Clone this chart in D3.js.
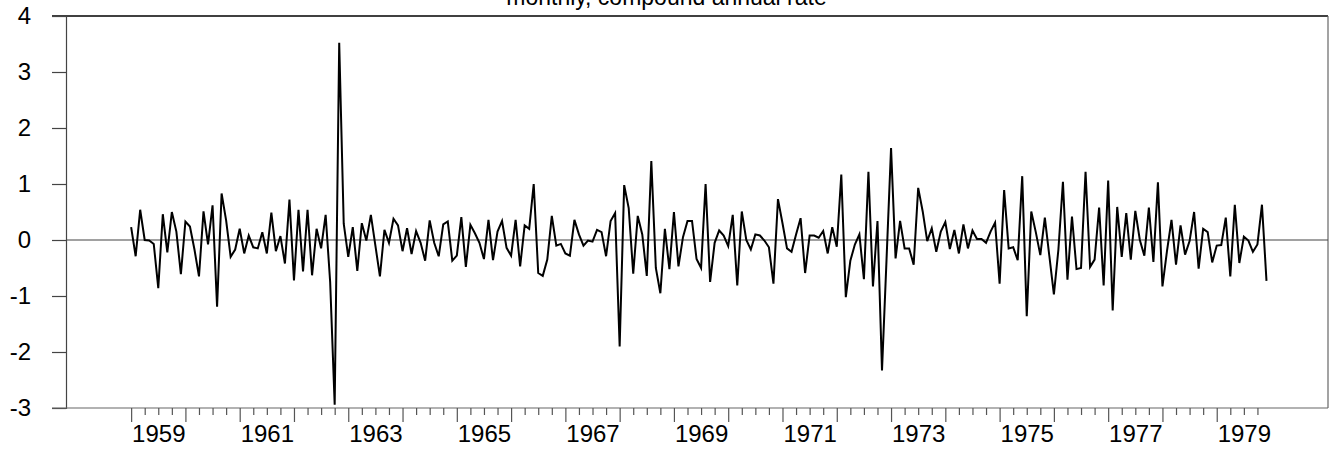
<!DOCTYPE html>
<html>
<head>
<meta charset="utf-8">
<script src="https://cdn.jsdelivr.net/npm/d3@7"></script>
<style>
  html, body { margin: 0; padding: 0; background: #fff; }
  svg { display: block; }
  text { font-family: "Liberation Sans", Arial, sans-serif; fill: #000; }
</style>
</head>
<body>
<svg id="chart" width="1333" height="450"></svg>
<script>
// ---- data ----
const titleText = "monthly, compound annual rate";
const startYear = 1959;   // first observation: January 1959
const startMonth = 0;
const values = [
  0.23, -0.29, 0.54, 0.00, -0.01, -0.07, -0.86, 0.46, -0.22, 0.50, 0.15, -0.61,
  0.33, 0.24, -0.17, -0.65, 0.51, -0.08, 0.62, -1.19, 0.83, 0.35, -0.30, -0.17,
  0.20, -0.24, 0.08, -0.13, -0.15, 0.14, -0.24, 0.49, -0.20, 0.07, -0.42, 0.72,
  -0.72, 0.54, -0.56, 0.54, -0.63, 0.20, -0.15, 0.45, -0.75, -2.94, 3.52, 0.29,
  -0.30, 0.23, -0.55, 0.30, -0.01, 0.45, -0.10, -0.65, 0.18, -0.05, 0.38, 0.26,
  -0.20, 0.21, -0.25, 0.16, -0.05, -0.37, 0.35, -0.05, -0.29, 0.28, 0.33, -0.37,
  -0.28, 0.41, -0.48, 0.27, 0.12, -0.05, -0.34, 0.36, -0.36, 0.15, 0.34, -0.14,
  -0.28, 0.36, -0.47, 0.26, 0.20, 1.00, -0.59, -0.64, -0.35, 0.43, -0.10, -0.07,
  -0.24, -0.28, 0.36, 0.10, -0.10, -0.01, -0.03, 0.18, 0.14, -0.29, 0.34, 0.48,
  -1.90, 0.98, 0.57, -0.60, 0.43, 0.10, -0.64, 1.41, -0.50, -0.95, 0.20, -0.52,
  0.50, -0.47, 0.05, 0.34, 0.34, -0.34, -0.50, 1.00, -0.75, -0.05, 0.17, 0.08,
  -0.11, 0.45, -0.81, 0.51, 0.00, -0.17, 0.10, 0.08, -0.01, -0.13, -0.78, 0.73,
  0.30, -0.15, -0.21, 0.10, 0.39, -0.59, 0.08, 0.08, 0.04, 0.16, -0.24, 0.23,
  -0.12, 1.17, -1.02, -0.37, -0.08, 0.10, -0.70, 1.22, -0.83, 0.34, -2.33, -0.35,
  1.64, -0.33, 0.34, -0.15, -0.15, -0.44, 0.93, 0.51, -0.02, 0.21, -0.21, 0.15,
  0.32, -0.16, 0.18, -0.24, 0.28, -0.15, 0.17, 0.02, 0.02, -0.05, 0.15, 0.31,
  -0.78, 0.89, -0.15, -0.13, -0.36, 1.14, -1.36, 0.51, 0.14, -0.27, 0.40, -0.29,
  -0.97, -0.17, 1.04, -0.71, 0.42, -0.52, -0.50, 1.22, -0.48, -0.35, 0.58, -0.81,
  1.06, -1.26, 0.59, -0.30, 0.48, -0.35, 0.52, 0.00, -0.28, 0.58, -0.39, 1.03,
  -0.83, -0.20, 0.36, -0.44, 0.26, -0.26, -0.02, 0.50, -0.51, 0.20, 0.14, -0.40,
  -0.10, -0.09, 0.40, -0.65, 0.63, -0.41, 0.06, -0.01, -0.21, -0.08, 0.63, -0.73
];
const yTickValues = [-3, -2, -1, 0, 1, 2, 3, 4];
const yearLabels = [1959, 1961, 1963, 1965, 1967, 1969, 1971, 1973, 1975, 1977, 1979];
const tickYears = d3.range(1959, 1980);        // major ticks, one per year
const quartersPerYear = 4;                      // minor ticks, quarterly

// ---- layout ----
const svg = d3.select("#chart");
const plotLeft = 66, plotRight = 1328, plotTop = 16, plotBottom = 408;
const labelFont = '"Liberation Sans", Arial, sans-serif';

const x = d3.scaleLinear().domain([1957.8, 1981.05]).range([plotLeft, plotRight]);
const y = d3.scaleLinear().domain([-3, 4]).range([plotBottom, plotTop]);

const series = values.map((v, i) => ({ t: startYear + (startMonth + i) / 12, v }));

// title (partly above the page edge, as in the original)
svg.append("text")
  .attr("x", 666.5).attr("y", 5)
  .attr("text-anchor", "middle")
  .style("font-size", "23px")
  .text(titleText);

// frame: top and right
svg.append("line").attr("x1", 52).attr("x2", plotRight).attr("y1", plotTop).attr("y2", plotTop)
  .attr("stroke", "#000").attr("stroke-width", 1.5);
svg.append("line").attr("x1", plotRight).attr("x2", plotRight).attr("y1", plotTop).attr("y2", plotBottom)
  .attr("stroke", "#666").attr("stroke-width", 1.2);

// y axis
const yAxis = d3.axisLeft(y).tickValues(yTickValues).tickSize(14).tickPadding(21)
  .tickFormat(d => String(d));
const gy = svg.append("g").attr("transform", `translate(${plotLeft},0)`).call(yAxis);
gy.select(".domain").attr("stroke", "#444").attr("stroke-width", 1.2);
gy.selectAll(".tick line").attr("stroke", "#444").attr("stroke-width", 1.2);
gy.selectAll(".tick text")
  .style("font-family", labelFont)
  .style("font-size", "24px").attr("fill", "#000");

// x axis line
svg.append("line").attr("x1", 52).attr("x2", plotRight).attr("y1", plotBottom).attr("y2", plotBottom)
  .attr("stroke", "#666").attr("stroke-width", 1.2);

// x ticks: major (years) and minor (quarters)
const quarterTicks = [];
tickYears.forEach(yr => { for (let q = 0; q < quartersPerYear; q++) quarterTicks.push(yr + q / quartersPerYear); });
const xAxisMinor = d3.axisBottom(x).tickValues(quarterTicks.filter(t => t % 1 !== 0))
  .tickSize(7).tickFormat("");
const gxm = svg.append("g").attr("transform", `translate(0,${plotBottom})`).call(xAxisMinor);
gxm.select(".domain").remove();
gxm.selectAll(".tick line").attr("stroke", "#555").attr("stroke-width", 1.2);

const xAxisMajor = d3.axisBottom(x).tickValues(tickYears).tickSize(14).tickFormat("");
const gxM = svg.append("g").attr("transform", `translate(0,${plotBottom})`).call(xAxisMajor);
gxM.select(".domain").remove();
gxM.selectAll(".tick line").attr("stroke", "#555").attr("stroke-width", 1.2);

// year labels centered mid-year
const xLabelAxis = d3.axisBottom(x).tickValues(yearLabels.map(d => d + 0.5))
  .tickSize(0).tickPadding(17).tickFormat(d => String(Math.floor(d)));
const gxl = svg.append("g").attr("transform", `translate(0,${plotBottom})`).call(xLabelAxis);
gxl.select(".domain").remove();
gxl.selectAll(".tick text")
  .style("font-family", labelFont)
  .style("font-size", "24px").attr("fill", "#000");

// zero line
svg.append("line").attr("x1", plotLeft).attr("x2", plotRight).attr("y1", y(0)).attr("y2", y(0))
  .attr("stroke", "#444").attr("stroke-width", 1.2);

// series line
svg.append("path").datum(series)
  .attr("fill", "none").attr("stroke", "#000").attr("stroke-width", 2)
  .attr("stroke-linejoin", "miter")
  .attr("d", d3.line().x(d => x(d.t)).y(d => y(d.v)));
</script>
</body>
</html>
